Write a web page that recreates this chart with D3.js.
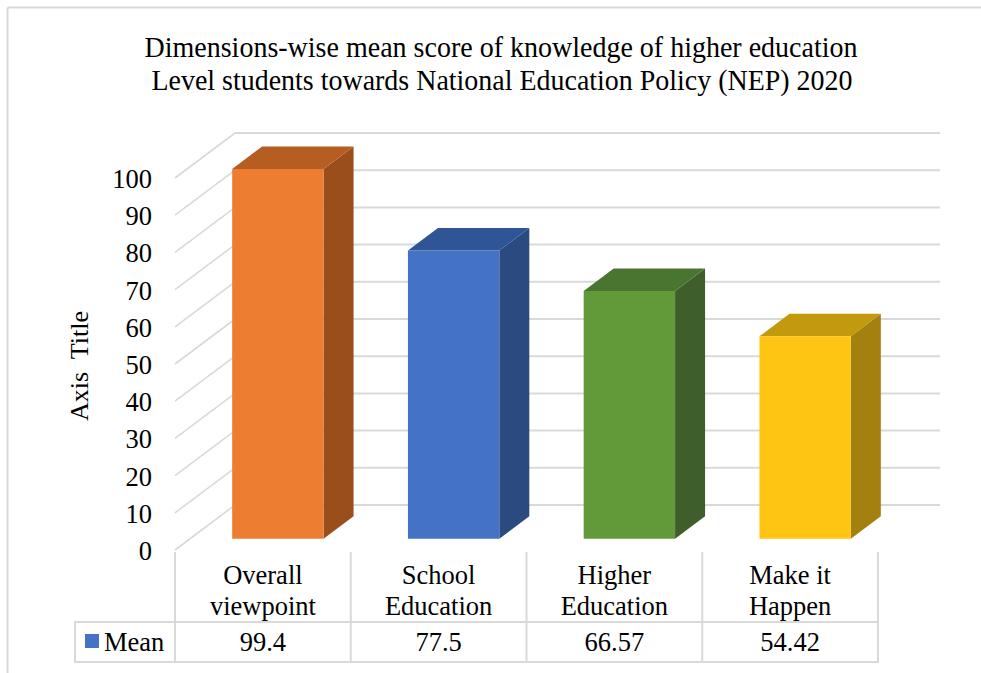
<!DOCTYPE html>
<html>
<head>
<meta charset="utf-8">
<script src="https://cdn.jsdelivr.net/npm/d3@7"></script>
<style>
  html, body { margin: 0; padding: 0; background: #fff; }
  svg { display: block; }
  text { font-family: "Liberation Serif", "Times New Roman", serif; fill: #000; }
</style>
</head>
<body>
<svg id="chart" width="981" height="673"></svg>
<script>
// ---- data ----
const titleLines = [
  "Dimensions-wise mean score of knowledge of higher education",
  "Level students towards National Education Policy (NEP) 2020"
];
const categories = ["Overall\nviewpoint", "School\nEducation", "Higher\nEducation", "Make it\nHappen"];
const seriesName = "Mean";
const meanValues = [99.4, 77.5, 66.57, 54.42];
const yTicks = [0, 10, 20, 30, 40, 50, 60, 70, 80, 90, 100];
const axisTitle = "Axis  Title";

// ---- styles ----
const palette = [
  { front: "#ED7D31", top: "#B65E22", side: "#9A4E1C" },
  { front: "#4472C4", top: "#2F5597", side: "#2B4A7F" },
  { front: "#629A3A", top: "#4A7530", side: "#3E5F2B" },
  { front: "#FFC512", top: "#C39A0E", side: "#A4800E" }
];
const legendColor = "#4472C4";
const gridColor = "#d9d9d9";

const svg = d3.select("#chart");

// outer border (top and left visible)
svg.append("line").attr("x1", 7.5).attr("x2", 981).attr("y1", 7.5).attr("y2", 7.5)
  .attr("stroke", gridColor).attr("stroke-width", 2);
svg.append("line").attr("x1", 7.5).attr("x2", 7.5).attr("y1", 7.5).attr("y2", 673)
  .attr("stroke", gridColor).attr("stroke-width", 2);

// ---- geometry ----
const x = d3.scaleBand().domain(categories).range([175, 878]).padding(0);
const y = d3.scaleLinear().domain([0, 100]).range([550, 178]);
const depthDX = 60, depthDY = -45;
const proj = (px, v, d) => [px + depthDX * d, y(v) + depthDY * d];

// ---- title ----
const titleTargets = [{ cx: 501, base: 57, w: 713 }, { cx: 502, base: 90, w: 701 }];
titleLines.forEach((t, i) => {
  svg.append("text")
    .attr("x", titleTargets[i].cx).attr("y", titleTargets[i].base)
    .attr("text-anchor", "middle").attr("font-size", 28.5)
    .attr("textLength", titleTargets[i].w).attr("lengthAdjust", "spacingAndGlyphs")
    .text(t);
});

// ---- gridlines (side wall diagonal + back wall horizontal) ----
const grid = svg.append("g");
yTicks.forEach(v => {
  const p0 = proj(175, v, 0), p1 = proj(175, v, 1), p2 = proj(878, v, 1);
  grid.append("line").attr("x1", p0[0]).attr("y1", p0[1]).attr("x2", p1[0]).attr("y2", p1[1])
    .attr("stroke", gridColor).attr("stroke-width", 1.6);
  grid.append("line").attr("x1", p1[0]).attr("y1", p1[1]).attr("x2", p2[0] + 2).attr("y2", p2[1])
    .attr("stroke", gridColor).attr("stroke-width", 2);
});

// ---- y tick labels ----
svg.append("g").selectAll("text").data(yTicks).join("text")
  .attr("x", 152).attr("y", d => y(d) + 1)
  .attr("text-anchor", "end").attr("dominant-baseline", "central")
  .attr("font-size", 26.5).text(d => d);

// ---- axis title ----
svg.append("text")
  .attr("transform", "translate(88,366) rotate(-90)")
  .attr("text-anchor", "middle").attr("font-size", 26)
  .style("white-space", "pre").attr("xml:space", "preserve")
  .text(axisTitle);

// ---- 3D bars ----
const d0 = 0.25, d1 = 0.75;
const barFrac = 0.52;
const bars = svg.append("g");
categories.forEach((c, i) => {
  const v = meanValues[i];
  const bw = x.bandwidth() * barFrac;
  const xl = x(c) + (x.bandwidth() - bw) / 2, xr = xl + bw;
  const col = palette[i];
  const ftl = proj(xl, v, d0), ftr = proj(xr, v, d0), fbr = proj(xr, 0, d0), fbl = proj(xl, 0, d0);
  const btl = proj(xl, v, d1), btr = proj(xr, v, d1), bbr = proj(xr, 0, d1);
  const poly = pts => "M" + pts.map(p => p.join(",")).join("L") + "Z";
  bars.append("path").attr("d", poly([ftr, btr, bbr, fbr])).attr("fill", col.side);
  bars.append("path").attr("d", poly([ftl, btl, btr, ftr])).attr("fill", col.top);
  bars.append("path").attr("d", poly([ftl, ftr, fbr, fbl])).attr("fill", col.front);
});

// ---- data table ----
const tbl = svg.append("g");
const tableTop = 552, rowMid = 622, tableBottom = 662, tableLeft = 75;
const bounds = categories.map(c => x(c)).concat([x.range()[1]]);
bounds.forEach(bx => {
  tbl.append("line").attr("x1", bx).attr("x2", bx).attr("y1", tableTop).attr("y2", tableBottom)
    .attr("stroke", gridColor).attr("stroke-width", 2);
});
tbl.append("line").attr("x1", tableLeft).attr("x2", tableLeft).attr("y1", rowMid).attr("y2", tableBottom)
  .attr("stroke", gridColor).attr("stroke-width", 2);
[rowMid, tableBottom].forEach(yy => {
  tbl.append("line").attr("x1", tableLeft - 1).attr("x2", x.range()[1] + 1).attr("y1", yy).attr("y2", yy)
    .attr("stroke", gridColor).attr("stroke-width", 2);
});

categories.forEach((c, i) => {
  const cx = x(c) + x.bandwidth() / 2;
  const lines = c.split("\n");
  lines.forEach((ln, j) => {
    tbl.append("text").attr("x", cx).attr("y", 584 + j * 31)
      .attr("text-anchor", "middle").attr("font-size", 26.5).text(ln);
  });
  tbl.append("text").attr("x", cx).attr("y", 651)
    .attr("text-anchor", "middle").attr("font-size", 26.5).text(String(meanValues[i]));
});

// legend key in table
tbl.append("rect").attr("x", 85).attr("y", 634).attr("width", 14).attr("height", 14).attr("fill", legendColor);
tbl.append("text").attr("x", 104).attr("y", 651).attr("font-size", 26.5).text(seriesName);
</script>
</body>
</html>
